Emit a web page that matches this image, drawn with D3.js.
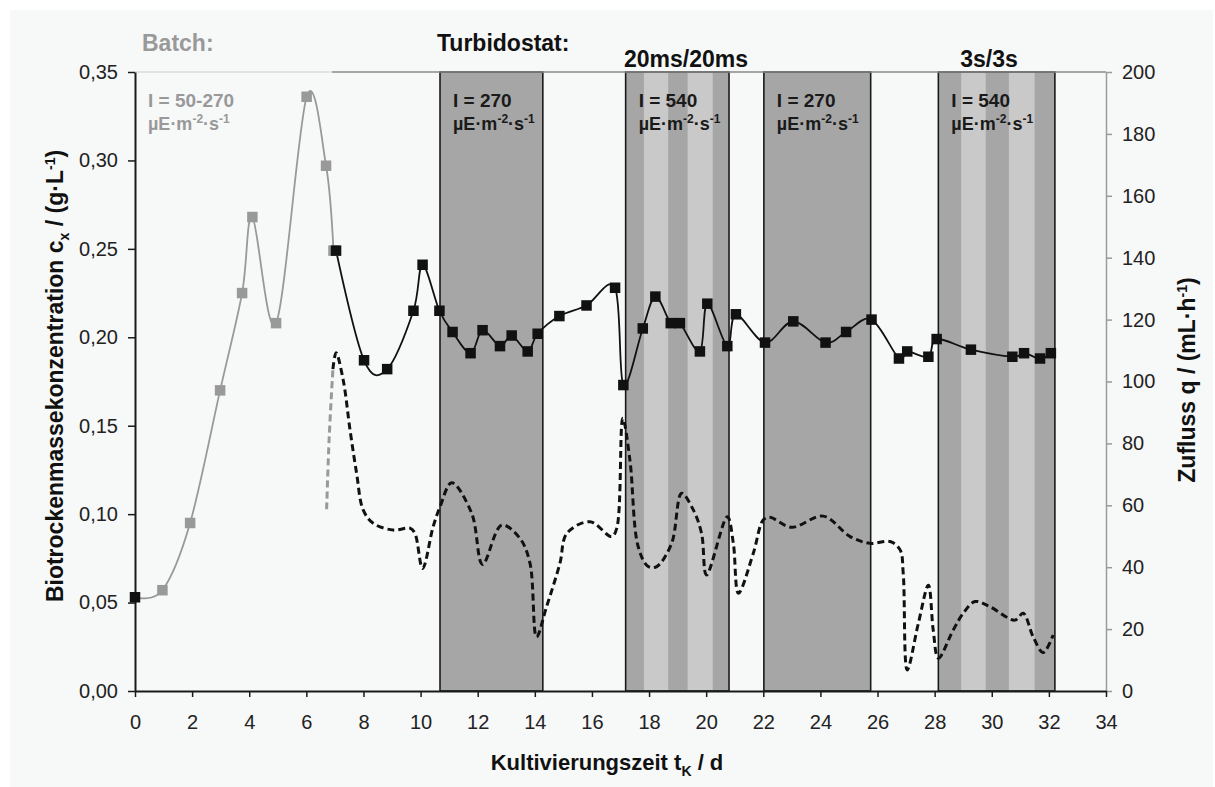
<!DOCTYPE html>
<html>
<head>
<meta charset="utf-8">
<script src="https://cdn.jsdelivr.net/npm/d3@7"></script>
<style>
body { margin: 0; background: #ffffff; }
text { font-family: "Liberation Sans", Arial, sans-serif; }
</style>
</head>
<body>
<svg id="graph"></svg>
<script>
// batch phase (grey squares)
var batchDays = [0, 0.96, 1.93, 2.98, 3.75, 4.11, 4.94, 6.01, 6.69, 6.95];
var batchConc = [0.053, 0.057, 0.095, 0.170, 0.225, 0.268, 0.208, 0.336, 0.297, 0.249];

// turbidostat phase (black squares)
var turbDays = [7.04, 8.02, 8.83, 9.75, 10.07, 10.66, 11.12, 11.75, 12.17, 12.78, 13.19, 13.75, 14.10, 14.86, 15.81, 16.81, 17.10, 17.78, 18.22, 18.76, 19.08, 19.78, 20.04, 20.74, 21.04, 22.06, 23.05, 24.18, 24.90, 25.79, 26.75, 27.04, 27.78, 28.07, 29.27, 30.72, 31.13, 31.69, 32.07];
var turbConc = [0.249, 0.187, 0.182, 0.215, 0.241, 0.215, 0.203, 0.191, 0.204, 0.195, 0.201, 0.192, 0.202, 0.212, 0.218, 0.228, 0.173, 0.205, 0.223, 0.208, 0.208, 0.192, 0.219, 0.195, 0.213, 0.197, 0.209, 0.197, 0.203, 0.210, 0.188, 0.192, 0.189, 0.199, 0.193, 0.189, 0.191, 0.188, 0.191];

// inflow q (dashed, right axis)
var flowBatchDays = [6.71, 6.80, 6.93];
var flowBatchQ = [58.7, 82, 104];
var flowDays = [6.93, 7.04, 7.29, 7.53, 7.76, 7.99, 8.34, 9.04, 9.63, 9.80, 10.07, 10.44, 10.68, 11.09, 11.79, 12.17, 12.84, 13.48, 13.83, 14.06, 14.41, 14.88, 15.12, 15.93, 16.69, 16.87, 17.08, 17.33, 17.62, 17.97, 18.27, 18.79, 19.14, 19.55, 19.84, 20.01, 20.74, 20.95, 21.13, 21.65, 22.0, 22.23, 22.99, 24.1, 25.04, 25.74, 26.44, 26.79, 26.9, 27.04, 27.43, 27.78, 27.95, 28.13, 28.65, 29.0, 29.41, 29.94, 30.81, 31.1, 31.45, 31.8, 32.15];
var flowQ = [104, 109.3, 100.5, 84.3, 70.3, 58.5, 54.2, 52, 52.6, 51, 39.6, 53.1, 59.5, 67.3, 57.4, 40.9, 53.6, 49.3, 41.3, 17.5, 27.2, 41.3, 50.9, 54.7, 49.9, 52.6, 88.1, 74.6, 46.6, 40.2, 40.2, 47.7, 63.9, 58.5, 50.9, 37.5, 56.3, 47.8, 31.6, 44.5, 55.3, 56.1, 52.9, 56.5, 49.9, 47.7, 48.3, 45.6, 38, 6.8, 21.9, 34.2, 19.7, 10.6, 19.7, 25.1, 28.9, 27.2, 22.9, 25.1, 17.5, 12.4, 18.1];

// light phases
var boxStart = [10.68, 17.18, 22.02, 28.13];
var boxEnd = [14.28, 20.8, 25.76, 32.21];
var boxLabel = ["I = 270", "I = 540", "I = 270", "I = 540"];
var lightStart = [17.82, 19.35, 28.93, 30.60];
var lightEnd = [18.67, 20.23, 29.79, 31.50];

var xTicks = d3.range(0, 35, 2);
var leftTicks = [0, 0.05, 0.10, 0.15, 0.20, 0.25, 0.30, 0.35];
var rightTicks = d3.range(0, 201, 20);

var drawChart = function()
{
	var screen = {width: 1215, height: 787};
	var svg = d3.select("#graph")
		.attr("width", screen.width)
		.attr("height", screen.height);

	svg.append("rect")
		.attr("x", 10).attr("y", 10)
		.attr("width", 1203).attr("height", 777)
		.attr("fill", "#f7f8f8");

	var xScale = d3.scaleLinear().domain([0, 34]).range([135, 1106]);
	var yScale = d3.scaleLinear().domain([0, 0.35]).range([691, 72]);
	var qScale = d3.scaleLinear().domain([0, 200]).range([691, 72]);

	// shaded boxes
	svg.selectAll(".box")
		.data(boxStart)
		.enter()
		.append("rect")
		.attr("x", function(d) { return xScale(d); })
		.attr("y", yScale(0.35))
		.attr("width", function(d, i) { return xScale(boxEnd[i]) - xScale(d); })
		.attr("height", yScale(0) - yScale(0.35))
		.attr("fill", "#a6a6a6");

	svg.selectAll(".stripe")
		.data(lightStart)
		.enter()
		.append("rect")
		.attr("x", function(d) { return xScale(d); })
		.attr("y", yScale(0.35))
		.attr("width", function(d, i) { return xScale(lightEnd[i]) - xScale(d); })
		.attr("height", yScale(0) - yScale(0.35))
		.attr("fill", "#c9c9c9");

	svg.selectAll(".boxline")
		.data(boxStart)
		.enter()
		.append("rect")
		.attr("x", function(d) { return xScale(d); })
		.attr("y", yScale(0.35))
		.attr("width", function(d, i) { return xScale(boxEnd[i]) - xScale(d); })
		.attr("height", yScale(0) - yScale(0.35))
		.attr("fill", "none")
		.attr("stroke", "#1a1a1a")
		.attr("stroke-width", 1.6);

	// top frame line
	svg.append("line")
		.attr("x1", xScale(0)).attr("x2", xScale(6.9))
		.attr("y1", 72).attr("y2", 72)
		.attr("stroke", "#dcdcdc").attr("stroke-width", 1.5);
	svg.append("line")
		.attr("x1", xScale(6.9)).attr("x2", xScale(34))
		.attr("y1", 72).attr("y2", 72)
		.attr("stroke", "#8a8a8a").attr("stroke-width", 1.5);

	// axes
	var comma = function(d) { return d3.format(".2f")(d).replace(".", ","); };
	var left = svg.append("g")
		.attr("transform", "translate(" + xScale(0) + ",0)")
		.call(d3.axisLeft(yScale).tickValues(leftTicks).tickFormat(comma).tickSize(7).tickPadding(10).tickSizeOuter(0));
	var right = svg.append("g")
		.attr("transform", "translate(" + xScale(34) + ",0)")
		.call(d3.axisRight(qScale).tickValues(rightTicks).tickSize(6).tickPadding(10).tickSizeOuter(0));
	var bottom = svg.append("g")
		.attr("transform", "translate(0," + yScale(0) + ")")
		.call(d3.axisBottom(xScale).tickValues(xTicks).tickSize(6).tickPadding(18).tickSizeOuter(0));

	left.select(".domain").attr("stroke", "#1a1a1a").attr("stroke-width", 2);
	left.selectAll(".tick line").attr("stroke", "#1a1a1a").attr("stroke-width", 1.5);
	right.select(".domain").attr("stroke", "#9a9a9a").attr("stroke-width", 1.5);
	right.selectAll(".tick line").attr("stroke", "#9a9a9a").attr("stroke-width", 1.5);
	bottom.select(".domain").attr("stroke", "#1a1a1a").attr("stroke-width", 2);
	bottom.selectAll(".tick line").attr("stroke", "#1a1a1a").attr("stroke-width", 1.5);
	svg.selectAll(".tick text")
		.attr("font-size", 20)
		.attr("fill", "#222")
		.style("font-family", "'Liberation Sans', Arial, sans-serif");

	// curves
	var smooth = d3.line().curve(d3.curveCatmullRom.alpha(0));
	var dashLine = d3.line().curve(d3.curveCatmullRom.alpha(0.5));

	var flowB = flowBatchDays.map(function(d, i) { return [xScale(d), qScale(flowBatchQ[i])]; });
	var flowT = flowDays.map(function(d, i) { return [xScale(d), qScale(flowQ[i])]; });
	svg.append("path")
		.attr("d", dashLine(flowB))
		.attr("fill", "none").attr("stroke", "#999")
		.attr("stroke-width", 3).attr("stroke-dasharray", "7,4");
	svg.append("path")
		.attr("d", dashLine(flowT))
		.attr("fill", "none").attr("stroke", "#111")
		.attr("stroke-width", 3).attr("stroke-dasharray", "7,4");

	var batchPts = batchDays.map(function(d, i) { return [xScale(d), yScale(batchConc[i])]; });
	var turbPts = turbDays.map(function(d, i) { return [xScale(d), yScale(turbConc[i])]; });
	svg.append("path")
		.attr("d", smooth(batchPts))
		.attr("fill", "none").attr("stroke", "#999").attr("stroke-width", 1.8);
	svg.append("path")
		.attr("d", smooth(turbPts))
		.attr("fill", "none").attr("stroke", "#111").attr("stroke-width", 1.8);

	var sq = 10.5;
	svg.selectAll(".bsq")
		.data(batchPts)
		.enter()
		.append("rect")
		.attr("x", function(d) { return d[0] - sq / 2; })
		.attr("y", function(d) { return d[1] - sq / 2; })
		.attr("width", sq).attr("height", sq)
		.attr("fill", function(d, i) { return i == 0 ? "#111" : "#999"; });
	svg.selectAll(".tsq")
		.data(turbPts)
		.enter()
		.append("rect")
		.attr("x", function(d) { return d[0] - sq / 2; })
		.attr("y", function(d) { return d[1] - sq / 2; })
		.attr("width", sq).attr("height", sq)
		.attr("fill", "#111");

	// box labels
	var unit = function(sel) {
		sel.append("tspan").text("µE·m");
		sel.append("tspan").attr("dy", -7).attr("font-size", 12).text("-2");
		sel.append("tspan").attr("dy", 7).text("·s");
		sel.append("tspan").attr("dy", -7).attr("font-size", 12).text("-1");
	};
	boxStart.forEach(function(d, i) {
		svg.append("text")
			.attr("x", xScale(d) + 13).attr("y", 107)
			.attr("font-size", 19).attr("font-weight", "bold").attr("fill", "#1a1a1a")
			.text(boxLabel[i]);
		var t = svg.append("text")
			.attr("x", xScale(d) + 13).attr("y", 130)
			.attr("font-size", 18).attr("font-weight", "bold").attr("fill", "#1a1a1a");
		unit(t);
	});
	svg.append("text")
		.attr("x", xScale(0) + 13).attr("y", 107)
		.attr("font-size", 19).attr("font-weight", "bold").attr("fill", "#999")
		.text("I = 50-270");
	var tb = svg.append("text")
		.attr("x", xScale(0) + 13).attr("y", 130)
		.attr("font-size", 18).attr("font-weight", "bold").attr("fill", "#999");
	unit(tb);

	// headers
	svg.append("text").attr("x", 142).attr("y", 51)
		.attr("font-size", 23).attr("font-weight", "bold").attr("fill", "#999")
		.text("Batch:");
	svg.append("text").attr("x", 437).attr("y", 51)
		.attr("font-size", 23).attr("font-weight", "bold").attr("fill", "#111")
		.text("Turbidostat:");
	svg.append("text").attr("x", 686).attr("y", 67).attr("text-anchor", "middle")
		.attr("font-size", 23).attr("font-weight", "bold").attr("fill", "#111")
		.text("20ms/20ms");
	svg.append("text").attr("x", 989).attr("y", 67).attr("text-anchor", "middle")
		.attr("font-size", 23).attr("font-weight", "bold").attr("fill", "#111")
		.text("3s/3s");

	// axis titles
	var xt = svg.append("text").attr("x", 607).attr("y", 770).attr("text-anchor", "middle")
		.attr("font-size", 22).attr("font-weight", "bold").attr("fill", "#111");
	xt.append("tspan").text("Kultivierungszeit t");
	xt.append("tspan").attr("dy", 6).attr("font-size", 14).text("K");
	xt.append("tspan").attr("dy", -6).text(" / d");

	var yt = svg.append("text")
		.attr("transform", "translate(63,376) rotate(-90)")
		.attr("text-anchor", "middle")
		.attr("font-size", 23).attr("font-weight", "bold").attr("fill", "#111");
	yt.append("tspan").text("Biotrockenmassekonzentration c");
	yt.append("tspan").attr("dy", 6).attr("font-size", 14).text("x");
	yt.append("tspan").attr("dy", -6).text(" / (g·L");
	yt.append("tspan").attr("dy", -8).attr("font-size", 14).text("-1");
	yt.append("tspan").attr("dy", 8).text(")");

	var rt = svg.append("text")
		.attr("transform", "translate(1195,380) rotate(-90)")
		.attr("text-anchor", "middle")
		.attr("font-size", 23).attr("font-weight", "bold").attr("fill", "#111");
	rt.append("tspan").text("Zufluss q / (mL·h");
	rt.append("tspan").attr("dy", -8).attr("font-size", 14).text("-1");
	rt.append("tspan").attr("dy", 8).text(")");
};

drawChart();
</script>
</body>
</html>
